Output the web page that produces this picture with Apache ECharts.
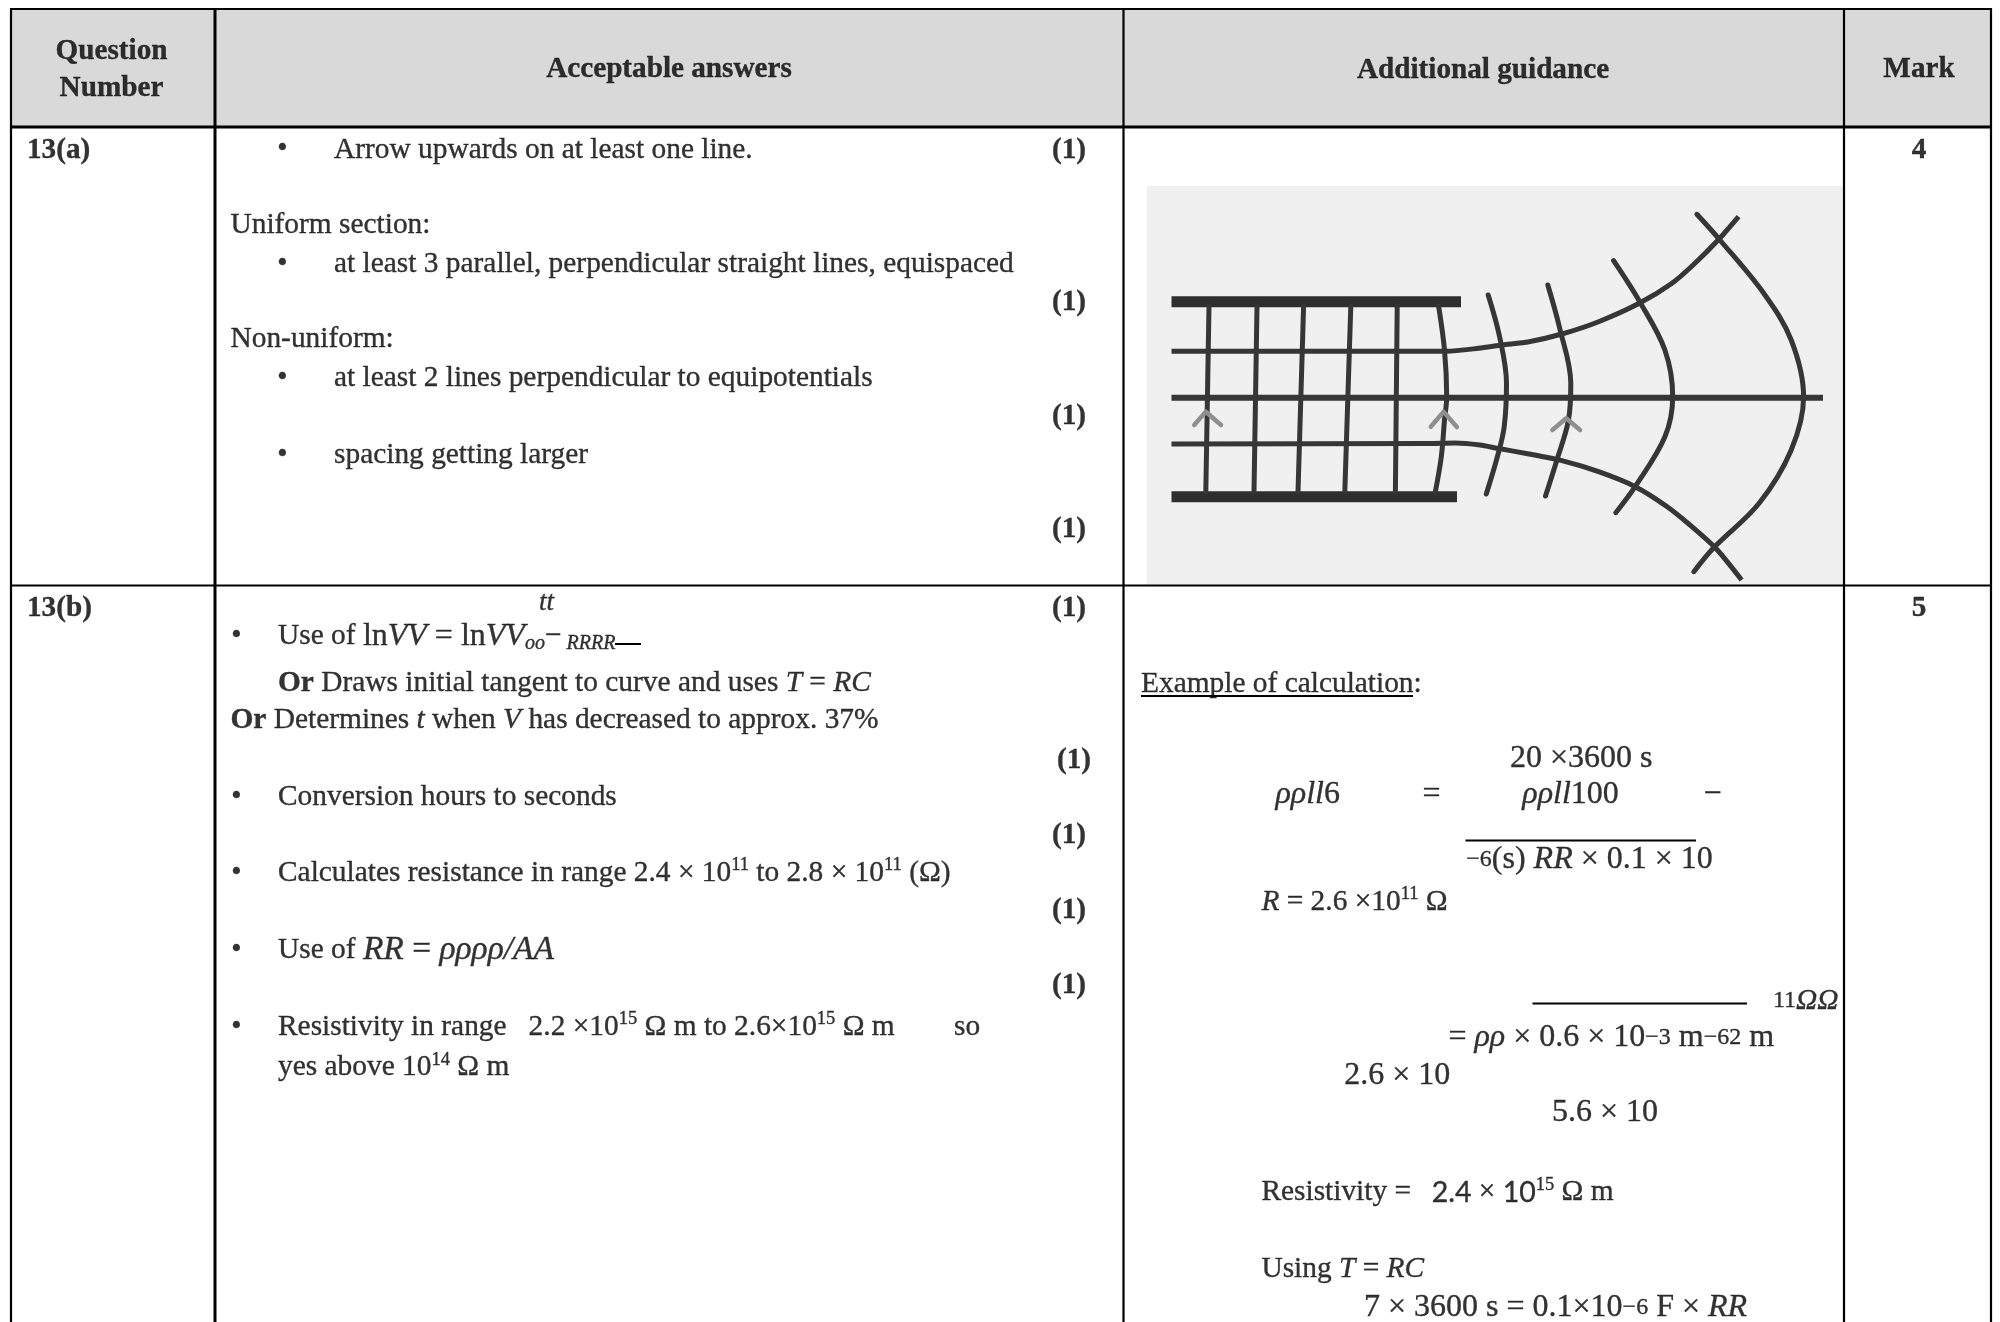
<!DOCTYPE html>
<html><head><meta charset="utf-8">
<style>html,body{margin:0;padding:0;background:#fff}#c{width:2000px;height:1322px}</style>
<script src="https://cdn.jsdelivr.net/npm/echarts@6/dist/echarts.min.js"></script>
</head><body><div id="c"></div>
<script>
// ---- Text content ----
const headerLabels = ['{hd|Question}', '{hd|Number}', '{hd|Acceptable answers}', '{hd|Additional guidance}', '{hd|Mark}'];
const questionLabels = ['{hd|13(a)}', '{hd|13(b)}'];
const markLabels = ['{hd|4}', '{hd|5}'];
const partMarks = ['{hd|(1)}', '{hd|(1)}', '{hd|(1)}', '{hd|(1)}', '{hd|(1)}', '{hd|(1)}', '{hd|(1)}', '{hd|(1)}', '{hd|(1)}'];
const bullets = ['•', '•', '•', '•', '•', '•', '•', '•', '•'];
const answerLinesA = [
  'Arrow upwards on at least one line.',
  'Uniform section:',
  'at least 3 parallel, perpendicular straight lines, equispaced',
  'Non-uniform:',
  'at least 2 lines perpendicular to equipotentials',
  'spacing getting larger'
];
const answerLinesB = [
  '{it2|tt}',
  'Use of {ml|ln}{mj|VV}{ml| = ln}{mj|VV}{sbi|oo}{n2|−}{sbi| RRRR}',
  '{bo|Or} Draws initial tangent to curve and uses {it|T} = {it|RC}',
  '{bo|Or} Determines {it|t} when {it|V} has decreased to approx. 37%',
  'Conversion hours to seconds',
  'Calculates resistance in range 2.4 × 10{sp|11} to 2.8 × 10{sp|11} (Ω)',
  'Use of {mk|RR}{mk2| = }{mk|ρρρρ/AA}',
  'Resistivity in range   2.2 ×10{sp|15} Ω m to 2.6×10{sp|15} Ω m',
  'so',
  'yes above 10{sp|14} Ω m'
];
const guidanceLines = [
  'Example of calculation:',
  '{mi|ρρll}{m|6}',
  '{m|=}',
  '{m|20 ×3600 s}',
  '{mi|ρρll}{m|100}',
  '{m|−}',
  '{ms|−6}{m|(s) }{mi|RR}{m| × 0.1 × 10}',
  '{it|R} = 2.6 ×10{sp|11} Ω',
  '{ms|11}{it|ΩΩ}',
  '{m|= }{mi|ρρ}{m| × 0.6 × 10}{ms|−3}{m| m}{ms|−62}{m| m}',
  '{m|2.6 × 10}',
  '{m|5.6 × 10}',
  'Resistivity =  \u2009{sn|2.4} × {sn|10}{sp|15} Ω m',
  'Using {it|T} = {it|RC}',
  '{m|7 × 3600 s = 0.1×10}{ms|−6}{m| F × }{mi|RR}'
];

// ---- Table rules, read in page pixels ----
const ruleXs = [11, 215, 1123.5, 1844, 1991];
const ruleYTop = 9, ruleYBottom = 1322, headerRuleY = 127, rowRuleY = 585.5;
const fractionRules = [[[1465.5, 840.5], [1696, 840.5]], [[1532.5, 1003.5], [1747, 1003.5]], [[1141, 696], [1413, 696]], [[615, 644], [641, 644]]];

// ---- Sketch of field and equipotential lines ----
const plateTop = [[1171.5, 301.7], [1461, 301.7]];
const plateBottom = [[1171.5, 496.7], [1457, 496.7]];
const fieldCentre = [[1171.5, 397.7], [1823, 397.7]];
const fieldUpper = [[1171.5, 351.3], [1446.7, 351.3], [1478.5, 348.3], [1502.3, 345], [1529, 341.7], [1561.9, 334], [1598.6, 321.7], [1639.3, 303.3], [1672, 283.3], [1695, 263.3], [1719.8, 238.3], [1738.6, 216.7]];
const fieldLower = [[1171.5, 444], [1428, 443.6], [1455, 443], [1480, 445], [1497.4, 448.3], [1529, 454], [1561.9, 460.7], [1598.6, 471.7], [1635.3, 486.7], [1667.2, 506.7], [1690, 525], [1715.8, 548.3], [1741.6, 580]];
const uniformLines = [
  [[1209, 306], [1205.8, 492]],
  [[1257, 306], [1254, 492]],
  [[1303.6, 306], [1298, 492]],
  [[1350.8, 306], [1344.8, 492]],
  [[1397.2, 306], [1395.4, 492]]
];
const curvedLines = [
  [[1438.6, 306], [1444.5, 350], [1446.7, 396.7], [1444.5, 420], [1441.3, 456.7], [1435.3, 492]],
  [[1488.2, 295], [1499.6, 336.7], [1506.5, 383.3], [1504.2, 426.7], [1497.4, 456.7], [1486.3, 494]],
  [[1547.8, 285], [1559.3, 326.7], [1570.8, 383.3], [1568.5, 420], [1556.9, 460], [1545.5, 496]],
  [[1613.6, 260.7], [1639.7, 301.7], [1664.9, 350], [1672.7, 396.7], [1664.9, 436.7], [1635.1, 486.7], [1615.8, 512.7]],
  [[1696.9, 214.3], [1719.9, 240], [1763.7, 293.3], [1791.2, 340], [1803.6, 396.7], [1791.2, 450], [1759.1, 503.3], [1713.2, 548.3], [1693.9, 571.7]]
];
const arrowHeads = [
  [[1194.2, 425], [1205.8, 411.7], [1221, 425]],
  [[1430.8, 426.7], [1443.6, 411.7], [1456.9, 427]],
  [[1552.4, 430], [1566.2, 418.3], [1580, 430]]
];

// ---- Placement of the text ----
const headerPos = [[111.5, 50], [111.5, 87], [669, 68], [1483, 68.5], [1919, 68]];
const questionPos = [[27, 148.5], [27, 606.5]];
const markPos = [[1919, 148.5], [1919, 606.5]];
const partMarkPos = [[1052, 148.5], [1052, 301], [1052, 415], [1052, 528], [1052, 607], [1057, 758.5], [1052, 833.5], [1052, 908.5], [1052, 983.5]];
const bulletPos = [[282.5, 148], [282.5, 262.5], [282.5, 376.5], [282.5, 453.5], [236.5, 634.5], [236.5, 795.5], [236.5, 871.5], [236.5, 948.5], [236.5, 1025.5]];
const answerAPos = [[334, 148.5], [230.5, 224], [334, 262.5], [230.5, 338], [334, 376.5], [334, 453.5]];
const answerBPos = [[539, 601], [278, 635], [278, 681.5], [230.5, 718.5], [278, 795.5], [278, 871.5], [278, 948.5], [278, 1025.5], [954, 1025.5], [278, 1066]];
const guidancePos = [[1141, 683], [1275.5, 793.5], [1422.6, 793.5], [1510, 757.5], [1522.3, 793.5], [1703.4, 793.5], [1466.3, 858], [1261.4, 900.5], [1773, 999.5], [1448.4, 1036], [1344.2, 1074.5], [1552, 1111.5], [1261.4, 1191], [1261.4, 1267.5], [1364, 1306.5]];

const SERIF = '"Liberation Serif"';
const FS = 29.4, LH = 34, TH = 0.35;
function tok(o) { return Object.assign({fontFamily: SERIF, lineHeight: LH, color: '#000', textBorderColor: '#000', textBorderWidth: TH}, o); }
const rich = {
  hd: tok({fontSize: 29.2, fontWeight: 'bold'}),
  bo: tok({fontSize: FS, fontWeight: 'bold'}),
  it: tok({fontSize: FS, fontStyle: 'italic'}),
  it2: tok({fontSize: 27, fontStyle: 'italic'}),
  n2: tok({fontSize: FS}),
  sbi: tok({fontSize: 20, fontStyle: 'italic', verticalAlign: 'bottom'}),
  sp: tok({fontSize: 18.5, verticalAlign: 'top'}),
  sn: tok({fontFamily: '"Lato"', fontSize: 28.5}),
  m: tok({fontSize: 32}),
  mi: tok({fontSize: 32, fontStyle: 'italic'}),
  ml: tok({fontSize: 32}),
  mj: tok({fontSize: 32, fontStyle: 'italic'}),
  mk: tok({fontSize: 33.5, fontStyle: 'italic'}),
  mk2: tok({fontSize: 33.5}),
  ms: tok({fontSize: 24})
};

function textSeries(name, strings, pos, align) {
  return {
    name, type: 'scatter', symbolSize: 0, silent: true, z: 5, clip: false,
    data: strings.map((s, i) => ({
      value: pos[i],
      label: {
        show: true, formatter: s, position: [0, 1.5], align: align || 'left', verticalAlign: 'middle',
        fontFamily: SERIF, fontSize: FS, lineHeight: LH, color: '#000', textBorderColor: '#000', textBorderWidth: TH, rich
      }
    }))
  };
}
function lineSeries(name, pts, color, width, smooth, z, cap) {
  return {
    name, type: 'line', data: pts, showSymbol: false, symbol: 'none', silent: true, clip: false, z: z || 3,
    smooth: smooth || false,
    lineStyle: {color, width, cap: cap || 'round', join: 'round'}
  };
}
function rule(name, pts, width) {
  return lineSeries(name, pts, '#000', width, false, 4, 'butt');
}

const INK = '#363636';
const series = [
  {
    name: 'panels', type: 'line', data: [], silent: true, z: 1,
    markArea: {
      silent: true,
      data: [
        [{coord: [11, 9], itemStyle: {color: '#d9d9d9'}}, {coord: [1991, 127]}],
        [{coord: [1147, 186], itemStyle: {color: '#f0f0f0'}}, {coord: [1844, 585]}]
      ]
    }
  },
  lineSeries('plateTop', plateTop, '#2e2e2e', 11, false, 3, 'butt'),
  lineSeries('plateBottom', plateBottom, '#2e2e2e', 11, false, 3, 'butt'),
  lineSeries('fieldCentre', fieldCentre, INK, 6, false, 3, 'butt'),
  lineSeries('fieldUpper', fieldUpper, INK, 5, 0.25, 3, 'butt'),
  lineSeries('fieldLower', fieldLower, INK, 5, 0.25, 3, 'butt'),
  ...uniformLines.map((p, i) => lineSeries('uniform' + i, p, INK, 5)),
  ...curvedLines.map((p, i) => lineSeries('curved' + i, p, INK, 5, 0.35)),
  ...arrowHeads.map((p, i) => lineSeries('arrow' + i, p, '#8f8f8f', 4.5)),
  ...ruleXs.map((x, i) => rule('v' + i, [[x, ruleYTop], [x, ruleYBottom]], i === 1 ? 3 : 2.2)),
  rule('top', [[10, ruleYTop], [1992, ruleYTop]], 2),
  rule('header', [[10, headerRuleY], [1992, headerRuleY]], 3),
  rule('row', [[10, rowRuleY], [1992, rowRuleY]], 2),
  ...fractionRules.map((p, i) => rule('fraction' + i, p, 2)),
  textSeries('headers', headerLabels, headerPos, 'center'),
  textSeries('questions', questionLabels, questionPos),
  textSeries('marks', markLabels, markPos, 'center'),
  textSeries('partMarks', partMarks, partMarkPos),
  textSeries('bullets', bullets, bulletPos, 'center'),
  textSeries('answersA', answerLinesA, answerAPos),
  textSeries('answersB', answerLinesB, answerBPos),
  textSeries('guidance', guidanceLines, guidancePos)
];

const chart = echarts.init(document.getElementById('c'), null, {renderer: 'canvas', width: 2000, height: 1322});
chart.setOption({
  animation: false,
  backgroundColor: '#fff',
  grid: {left: 0, right: 0, top: 0, bottom: 0},
  xAxis: {type: 'value', min: 0, max: 2000, show: false},
  yAxis: {type: 'value', min: 0, max: 1322, inverse: true, show: false},
  series
});
</script></body></html>
